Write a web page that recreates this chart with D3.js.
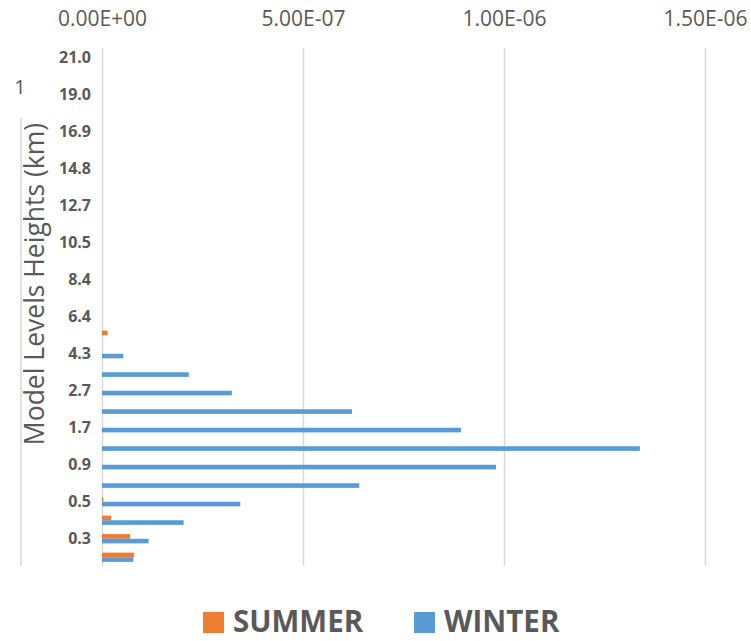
<!DOCTYPE html>
<html>
<head>
<meta charset="utf-8">
<script src="https://cdn.jsdelivr.net/npm/d3@7"></script>
<style>
  html, body { margin: 0; padding: 0; background: #fff; }
  svg { display: block; font-family: "Open Sans", "Noto Sans", sans-serif; }
</style>
</head>
<body>
<svg id="chart" width="751" height="641"></svg>
<script>
// Model level heights (km), bottom to top
const levels = ["0.1","0.3","0.4","0.5","0.7","0.9","1.2","1.7","2.2","2.7","3.4","4.3","5.3","6.4",
                "7.4","8.4","9.4","10.5","11.6","12.7","13.7","14.8","15.8","16.9","17.9","19.0","20.0","21.0"];
const summer = [8.0e-8, 7.0e-8, 2.3e-8, 3e-9, 0, 0, 0, 0, 0, 0, 0, 0, 1.4e-8, 0,
                0, 0, 0, 0, 0, 0, 0, 0, 0, 0, 0, 0, 0, 0];
const winter = [7.8e-8, 1.16e-7, 2.03e-7, 3.44e-7, 6.40e-7, 9.80e-7, 1.338e-6, 8.93e-7, 6.22e-7, 3.23e-7, 2.16e-7, 5.3e-8, 0, 0,
                0, 0, 0, 0, 0, 0, 0, 0, 0, 0, 0, 0, 0, 0];
const xTicks = [0, 5e-7, 1e-6, 1.5e-6];
const tickLabels = ["0.00E+00", "5.00E-07", "1.00E-06", "1.50E-06"];
const seriesNames = ["SUMMER", "WINTER"];
const colors = { SUMMER: "#ED7D31", WINTER: "#5B9BD5" };

const svg = d3.select("#chart");
const textColor = "#595959";
const gridColor = "#D9D9D9";

const plot = { left: 102, right: 705, top: 48, bottom: 565.5 };

const x = d3.scaleLinear().domain([0, 1.5e-6]).range([plot.left, plot.right]);
const y = d3.scaleBand().domain(levels).range([plot.bottom + 1, plot.top + 0.5]).paddingInner(0).paddingOuter(0);
const groupH = y.bandwidth() * 0.5;
const inner = d3.scaleBand().domain(seriesNames).range([0, groupH]);

// vertical gridlines
svg.append("g").selectAll("line").data(xTicks).join("line")
  .attr("x1", d => Math.round(x(d)) + 0.5).attr("x2", d => Math.round(x(d)) + 0.5)
  .attr("y1", plot.top).attr("y2", plot.bottom)
  .attr("stroke", gridColor).attr("stroke-width", 1.5);

// top axis labels
const xAxis = d3.axisTop(x).tickValues(xTicks).tickFormat((d, i) => tickLabels[i]).tickSize(0).tickPadding(0);
const gx = svg.append("g").attr("transform", "translate(0,26)").call(xAxis);
gx.select(".domain").remove();
gx.selectAll("text").attr("font-size", 21).attr("fill", textColor)
  .attr("font-family", "'Open Sans', sans-serif").attr("dy", 0);

// left category labels (every other level)
const yAxis = d3.axisLeft(y).tickSize(0).tickPadding(0)
  .tickFormat((d, i) => i % 2 === 1 ? d : "");
const gy = svg.append("g").attr("transform", "translate(91,0)").call(yAxis);
gy.select(".domain").remove();
gy.selectAll("text").attr("font-size", 16).attr("font-weight", "bold").attr("fill", textColor)
  .attr("font-family", "'Open Sans', sans-serif");

// bars
const rows = levels.map((lv, i) => ({ lv, SUMMER: summer[i], WINTER: winter[i] }));
const groupOffset = (y.bandwidth() - groupH) / 2;
const g = svg.append("g");
seriesNames.forEach(s => {
  g.selectAll("rect." + s).data(rows.filter(r => r[s] > 0)).join("rect")
    .attr("class", s)
    .attr("x", x(0))
    .attr("y", r => y(r.lv) + groupOffset + inner(s))
    .attr("width", r => x(r[s]) - x(0))
    .attr("height", inner.bandwidth())
    .attr("fill", colors[s]);
});

// axis title and side marks
svg.append("line").attr("x1", 21).attr("x2", 21).attr("y1", 118).attr("y2", plot.bottom)
  .attr("stroke", gridColor).attr("stroke-width", 1.5);
svg.append("text").attr("x", 20).attr("y", 94).attr("text-anchor", "middle")
  .attr("font-size", 20).attr("fill", textColor).text("1");
svg.append("text")
  .attr("transform", "translate(44,284) rotate(-90)")
  .attr("text-anchor", "middle").attr("font-size", 26.5).attr("fill", textColor)
  .text("Model Levels Heights (km)");

// legend
const legend = svg.append("g").attr("transform", "translate(203,612)");
const legendX = [0, 211];
seriesNames.forEach((s, i) => {
  const lg = legend.append("g").attr("transform", `translate(${legendX[i]},0)`);
  lg.append("rect").attr("width", 21).attr("height", 21).attr("fill", colors[s]);
  lg.append("text").attr("x", 30).attr("y", 20).attr("font-size", 29.5).attr("font-weight", "bold")
    .attr("fill", textColor).text(s);
});
</script>
</body>
</html>
